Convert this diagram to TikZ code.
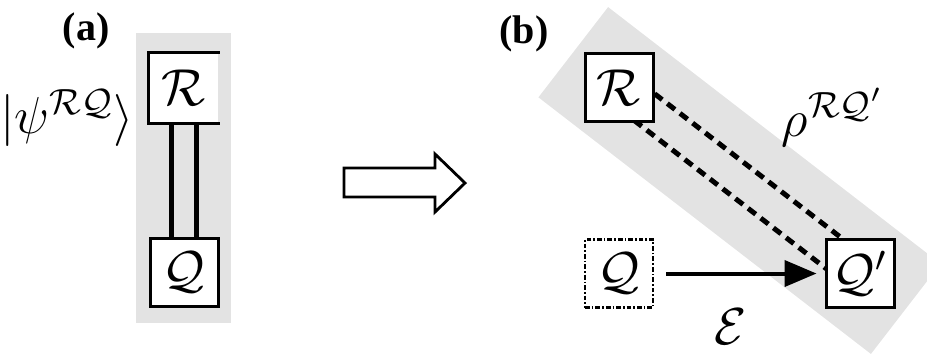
\RequirePackage{fix-cm}
\documentclass[tikz,border=0pt]{standalone}
\usepackage{fontspec}
\newfontfamily\panelfont{Liberation Serif}
\usetikzlibrary{arrows.meta,calc,backgrounds}
\definecolor{bandgray}{gray}{0.89}

\begin{document}
\begin{tikzpicture}[x=0.25pt,y=-0.25pt,>={Triangle[length=8pt,width=6.5pt]},
    sys/.style={shape=rectangle,draw=black,line width=0.75pt,fill=white,minimum size=17pt,inner sep=0pt,font=\fontsize{13}{15}\selectfont},
    dotbox/.style={line width=0.7pt,dash pattern=on 1.2pt off 0.5pt on 0.4pt off 0.5pt},
    lbl/.style={font=\fontsize{13}{15}\selectfont},
    panel/.style={font=\panelfont\fontsize{10}{12}\selectfont\bfseries},
    link/.style={line width=1.25pt,dash pattern=on 2.4pt off 1.6pt},
    band/.style={shape=rectangle,fill=bandgray,inner sep=0pt,outer sep=0pt,rotate=-37.66,minimum width=105pt,minimum height=28.5pt}]
    \useasboundingbox (0,0) rectangle (927,356);
    % panel (a)
    \node[panel] (a) at (86,31) {(a)};
    \node[sys,draw=none] (Ra) at (184,87.5) {$\mathcal{R}$};
    \node[sys] (Qa) at (184,272.5) {$\mathcal{Q}$};
    \node[lbl] (psi) at (67,118) {$\big|\psi^{\mathcal{R}\mathcal{Q}}\big\rangle$};
    \draw[line width=0.75pt] (Ra.north east) -- (Ra.north west) -- (Ra.south west) -- (Ra.south east);
    \draw[line width=1.2pt] ([xshift=-3.1pt]Ra.south) -- ([xshift=-3.1pt]Qa.north);
    \draw[line width=1.2pt] ([xshift=3.1pt]Ra.south) -- ([xshift=3.1pt]Qa.north);
    % the big arrow
    \draw[line width=0.7pt,line join=miter] (344,168) -- (435,168) -- (435,154) -- (465,183)
        -- (435,212) -- (435,197) -- (344,197) -- cycle;
    % panel (b)
    \node[panel] (b) at (524,34) {(b)};
    \node[sys] (Rb) at (619,87.5) {$\mathcal{R}$};
    \node[sys,dotbox] (Qb) at (619,273.5) {$\mathcal{Q}$};
    \node[sys] (Qp) at (860,273.5) {$\mathcal{Q}'$};
    \node[lbl] (rho) at (833,117) {$\rho^{\mathcal{R}\mathcal{Q}'}$};
    \path[->,line width=1pt](Qb) edge[shorten <=3pt,shorten >=2pt] node[lbl,pos=0.45,below=5pt] (eps) {$\mathcal{E}$} (Qp);
    \begin{scope}[on background layer]
        \fill[bandgray] (136,33) rectangle (231,323);
        \begin{scope}
            \clip (0,0) rectangle (927,356);
            \node[band] (belt) at ($(Rb)!0.5!(Qp)$) {};
        \end{scope}
        \draw[link] ($(Rb)!4.2pt!90:(Qp)$) -- ($(Qp)!4.2pt!-90:(Rb)$);
        \draw[link] ($(Rb)!4.2pt!-90:(Qp)$) -- ($(Qp)!4.2pt!90:(Rb)$);
    \end{scope}
\end{tikzpicture}
\end{document}
